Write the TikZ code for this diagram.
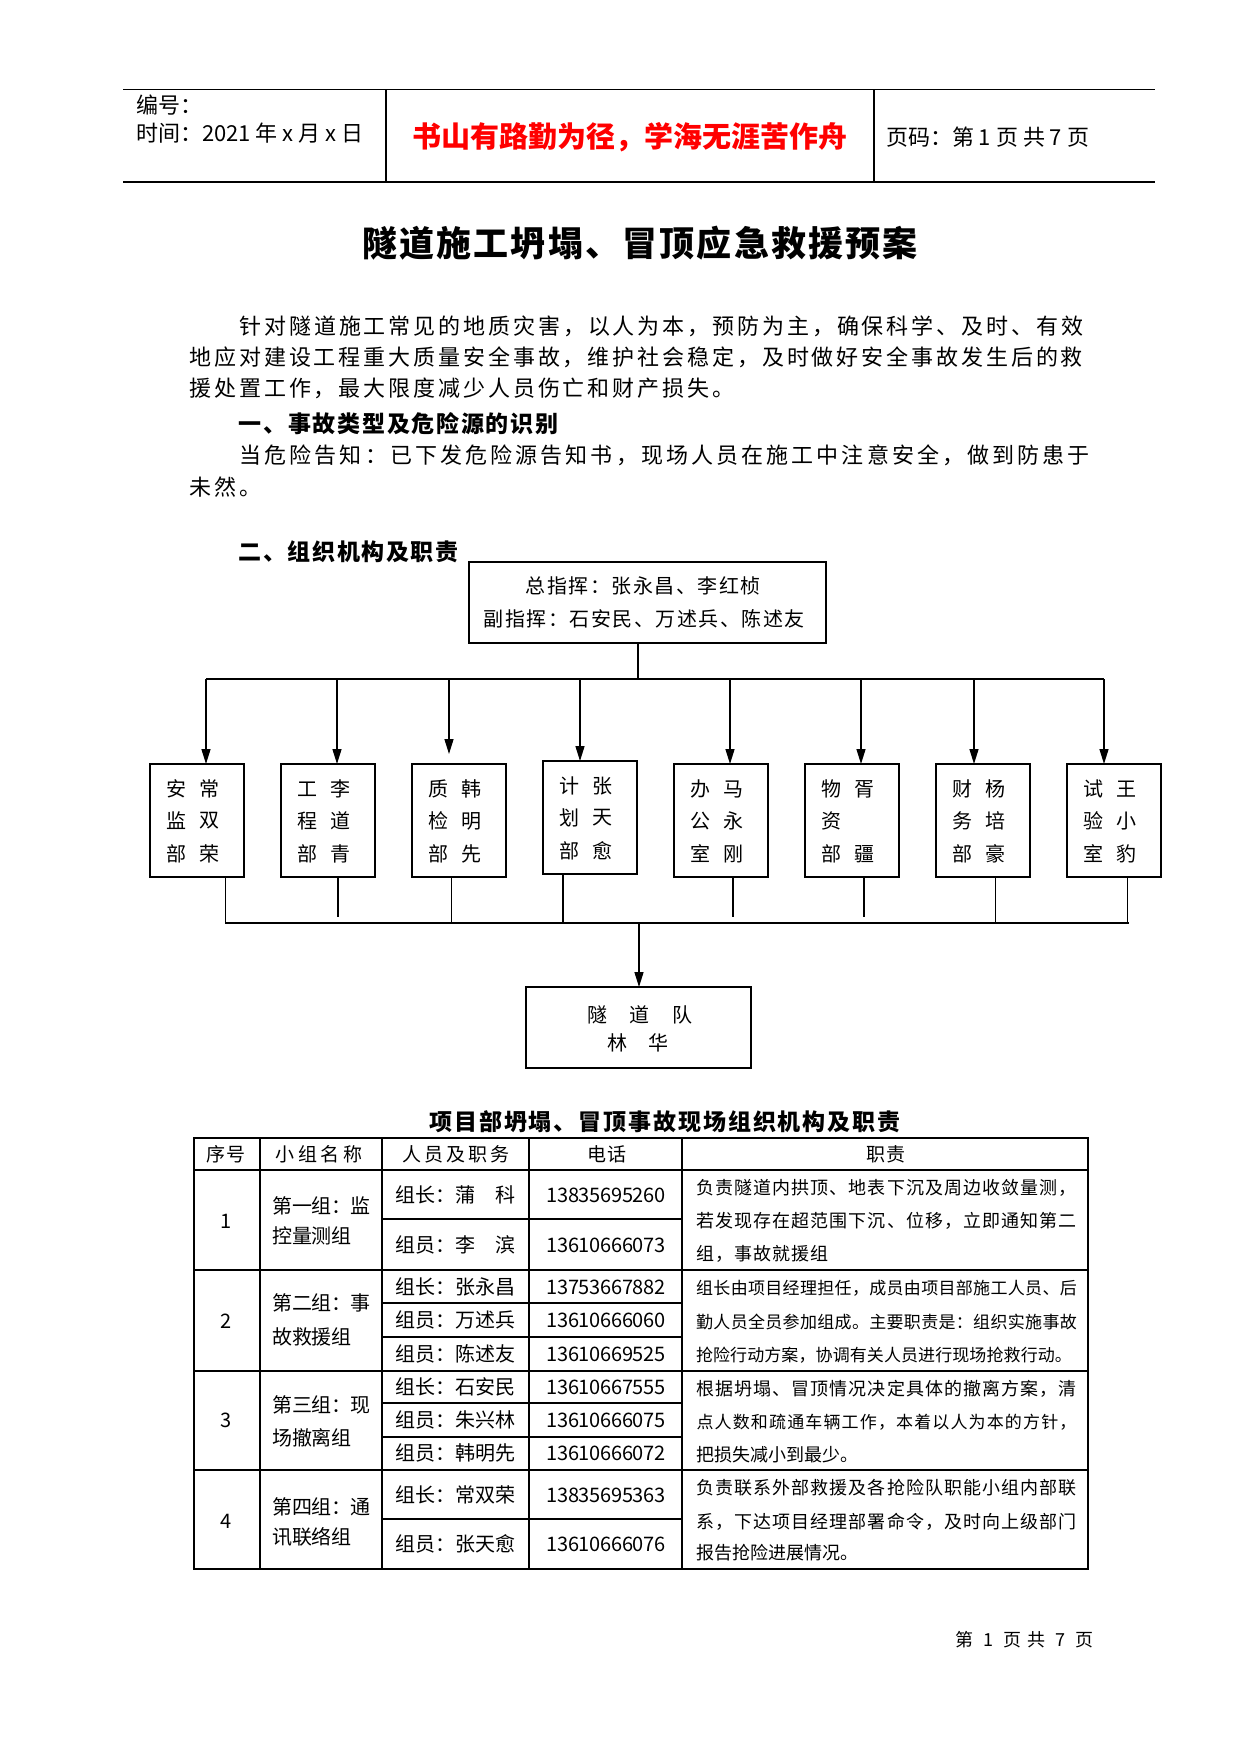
\documentclass[tikz,border=0pt]{standalone}
\usepackage{fontspec}
\setmainfont{Noto Sans CJK SC}
\usetikzlibrary{arrows.meta}
\makeatletter
\newdimen\chspw
\newcount\chspn
\newcommand\chsp[2]{\chspw=#1\relax\@tfor\chsptok:=#2\do{\makebox[\chspw]{\chsptok}}}
\newcommand\chspread[2]{\chspn=0\relax\@tfor\chsptok:=#2\do{\advance\chspn by 1\relax}\chspw=#1\relax\divide\chspw by\chspn\relax\@tfor\chsptok:=#2\do{\makebox[\chspw]{\chsptok}}}
\makeatother
\newcommand\fsz[1]{\fontsize{#1}{#1}\selectfont}
\definecolor{hdrred}{RGB}{255,0,0}
\newcommand\orgtxt[7]{%
  \path (#1.north west) ++(26,25) node[tc,font=\fsz{20}] (#1c1) {#2}
        ++(0,32) node[tc,font=\fsz{20}] (#1c2) {#3}
        ++(0,33) node[tc,font=\fsz{20}] (#1c3) {#4};
  \path (#1.north west) ++(59,25) node[tc,font=\fsz{20}] (#1d1) {#5}
        ++(0,32) node[tc,font=\fsz{20}] (#1d2) {#6}
        ++(0,33) node[tc,font=\fsz{20}] (#1d3) {#7};}
\begin{document}
\begin{tikzpicture}[x=1pt,y=-1pt,
  txt/.style={inner sep=0pt,outer sep=0pt,anchor=west},
  tc/.style={inner sep=0pt,outer sep=0pt,anchor=center},
  hline/.style={line width=1.1pt},
  obox/.style={draw,line width=1.4pt,inner sep=0pt,outer sep=0pt,anchor=north west},
  conn/.style={line width=1.4pt},
  arr/.style={line width=1.4pt,-{Triangle[length=15pt,width=9pt]}},
  tbl/.style={line width=1.1pt},
  tblo/.style={line width=1.6pt},
  body/.style={txt,font=\fsz{22}},
  cell/.style={txt,font=\fsz{20}},
  duty/.style={txt,font=\fsz{18}},
  dutys/.style={txt,font=\fsz{17}}]
\useasboundingbox[fill=white] (0,0) rectangle (1241,1754);

% ---- header ----
\draw[hline] (123,89.5) -- (1155,89.5);
\draw[hline] (123,182) -- (1155,182);
\draw[hline] (386,89.5) -- (386,182);
\draw[hline] (874,89.5) -- (874,182);
\node[txt,font=\fsz{22}] (hno) at (136,105) {编号：};
\node[txt,font=\fsz{22}] (htime) at (136,133) {时间：2021 年 x 月 x 日};
\node[tc,font=\fsz{29}\bfseries,text=hdrred] (hmotto) at (630,137) {书山有路勤为径，学海无涯苦作舟};
\node[txt,font=\fsz{22}] (hpage) at (886,137) {页码：第 1 页 共 7 页};

% ---- title & text ----
\node[tc,font=\fsz{35}\bfseries] (title) at (640,243) {\chsp{37.2pt}{隧道施工坍塌、冒顶应急救援预案}};
\node[body] (p1) at (238,326) {\chsp{24.9pt}{针对隧道施工常见的地质灾害，以人为本，预防为主，确保科学、及时、有效}};
\node[body] (p2) at (188,357) {\chsp{24.9pt}{地应对建设工程重大质量安全事故，维护社会稳定，及时做好安全事故发生后的救}};
\node[body] (p3) at (188,388) {\chsp{24.9pt}{援处置工作，最大限度减少人员伤亡和财产损失。}};
\node[txt,font=\fsz{23}\bfseries] (s1) at (238,424) {\chsp{24.7pt}{一、事故类型及危险源的识别}};
\node[body] (p4) at (238,455) {\chsp{25.1pt}{当危险告知：已下发危险源告知书，现场人员在施工中注意安全，做到防患于}};
\node[body] (p5) at (188,487) {\chsp{25.1pt}{未然。}};
\node[txt,font=\fsz{23}\bfseries] (s2) at (238,552) {\chsp{24.6pt}{二、组织机构及职责}};

% ---- org chart ----
\node[obox,minimum width=357pt,minimum height=81pt] (top) at (469,562) {};
\node[tc,font=\fsz{20}] (topl1) at (643,586) {\chsp{21.5pt}{总指挥：张永昌、李红桢}};
\node[tc,font=\fsz{20}] (topl2) at (644,619) {\chsp{21.5pt}{副指挥：石安民、万述兵、陈述友}};

\foreach \i/\xl/\yt in {1/150/764,2/281/764,3/412/764,4/543/761,5/674/764,6/805/764,7/936/764,8/1067/764}
  {\node[obox,minimum width=94pt,minimum height=113pt] (b\i) at (\xl,\yt) {};}
\orgtxt{b1}{安}{监}{部}{常}{双}{荣}
\orgtxt{b2}{工}{程}{部}{李}{道}{青}
\orgtxt{b3}{质}{检}{部}{韩}{明}{先}
\orgtxt{b4}{计}{划}{部}{张}{天}{愈}
\orgtxt{b5}{办}{公}{室}{马}{永}{刚}
\orgtxt{b6}{物}{资}{部}{胥}{}{疆}
\orgtxt{b7}{财}{务}{部}{杨}{培}{豪}
\orgtxt{b8}{试}{验}{室}{王}{小}{豹}

\coordinate (tj) at (638,679);
\coordinate (tbl) at (206,679);
\coordinate (tbr) at (1104,679);
\draw[conn] (top.south -| tj) -- (tj);
\draw[conn] (tbl) -- (tbr);
\foreach \i/\ax/\sh in {1/206/0,2/337/0,3/449/10,4/580/0,5/730/0,6/861/0,7/974/0,8/1104/0}
  {\coordinate (a\i) at (\ax,679);
   \draw[arr,shorten >=\sh pt] (a\i) -- (a\i |- b\i.north);}

\foreach \i/\lx/\ly/\lw in {1/225/923/0.8,2/338/917/1.4,3/451/923/0.8,4/563/923/1.4,5/733/917/1.4,6/864/917/1.4,7/995/923/0.8,8/1127/923/0.8}
  {\coordinate (l\i) at (\lx,\ly);
   \draw[line width=\lw pt] (b\i.south -| l\i) -- (l\i);}
\coordinate (bbl) at (225,923);
\coordinate (bbr) at (1129,923);
\draw[conn] (bbl) -- (bbr);
\coordinate (bj) at (639,923);
\node[obox,minimum width=225pt,minimum height=81pt] (team) at (526,987) {};
\draw[arr] (bj) -- (bj |- team.north);
\node[tc,font=\fsz{20}] (team1) at (640,1015) {\chsp{42.5pt}{隧道队}};
\node[tc,font=\fsz{20}] (team2) at (638,1043) {\chsp{41pt}{林华}};

% ---- table ----
\node[tc,font=\fsz{23}\bfseries] (ttitle) at (665,1122) {\chsp{24.9pt}{项目部坍塌、冒顶事故现场组织机构及职责}};
\draw[tblo] (194,1138) rectangle (1088,1569);
\foreach \x in {260,382,529,682} {\draw[tbl] (\x,1138) -- (\x,1569);}
\foreach \y in {1170,1270,1371,1470} {\draw[tbl] (194,\y) -- (1088,\y);}
\foreach \y in {1219,1303,1337,1403,1437,1519} {\draw[tbl] (382,\y) -- (682,\y);}

\node[tc,font=\fsz{19}] (th1) at (226,1154) {\chsp{19.5pt}{序号}};
\node[tc,font=\fsz{19}] (th2) at (319,1154) {\chsp{22.5pt}{小组名称}};
\node[tc,font=\fsz{19}] (th3) at (456,1154) {\chsp{22pt}{人员及职务}};
\node[tc,font=\fsz{19}] (th4) at (607,1154) {\chsp{20pt}{电话}};
\node[tc,font=\fsz{19}] (th5) at (886,1154) {\chsp{20pt}{职责}};

\node[tc,font=\fsz{20}] (n1) at (226,1221) {1};
\node[tc,font=\fsz{20}] (n2) at (226,1321) {2};
\node[tc,font=\fsz{20}] (n3) at (226,1420) {3};
\node[tc,font=\fsz{20}] (n4) at (226,1521) {4};

\node[cell] (g1a) at (273,1206) {\chsp{19.5pt}{第一组：监}};
\node[cell] (g1b) at (273,1236) {\chsp{19.5pt}{控量测组}};
\node[cell] (g2a) at (273,1303) {\chsp{19.5pt}{第二组：事}};
\node[cell] (g2b) at (273,1337) {\chsp{19.5pt}{故救援组}};
\node[cell] (g3a) at (273,1405) {\chsp{19.5pt}{第三组：现}};
\node[cell] (g3b) at (273,1438) {\chsp{19.5pt}{场撤离组}};
\node[cell] (g4a) at (273,1507) {\chsp{19.5pt}{第四组：通}};
\node[cell] (g4b) at (273,1537) {\chsp{19.5pt}{讯联络组}};

\node[cell] (m11) at (395,1195) {\chsp{20pt}{组长：蒲　科}};
\node[cell] (m12) at (395,1245) {\chsp{20pt}{组员：李　滨}};
\node[cell] (m21) at (395,1287) {\chsp{20pt}{组长：张永昌}};
\node[cell] (m22) at (395,1320) {\chsp{20pt}{组员：万述兵}};
\node[cell] (m23) at (395,1354) {\chsp{20pt}{组员：陈述友}};
\node[cell] (m31) at (395,1387) {\chsp{20pt}{组长：石安民}};
\node[cell] (m32) at (395,1420) {\chsp{20pt}{组员：朱兴林}};
\node[cell] (m33) at (395,1453) {\chsp{20pt}{组员：韩明先}};
\node[cell] (m41) at (395,1495) {\chsp{20pt}{组长：常双荣}};
\node[cell] (m42) at (395,1544) {\chsp{20pt}{组员：张天愈}};

\node[tc,font=\fsz{20}] (ph11) at (606,1195) {\chsp{10.8pt}{13835695260}};
\node[tc,font=\fsz{20}] (ph12) at (606,1245) {\chsp{10.8pt}{13610666073}};
\node[tc,font=\fsz{20}] (ph21) at (606,1287) {\chsp{10.8pt}{13753667882}};
\node[tc,font=\fsz{20}] (ph22) at (606,1320) {\chsp{10.8pt}{13610666060}};
\node[tc,font=\fsz{20}] (ph23) at (606,1354) {\chsp{10.8pt}{13610669525}};
\node[tc,font=\fsz{20}] (ph31) at (606,1387) {\chsp{10.8pt}{13610667555}};
\node[tc,font=\fsz{20}] (ph32) at (606,1420) {\chsp{10.8pt}{13610666075}};
\node[tc,font=\fsz{20}] (ph33) at (606,1453) {\chsp{10.8pt}{13610666072}};
\node[tc,font=\fsz{20}] (ph41) at (606,1495) {\chsp{10.8pt}{13835695363}};
\node[tc,font=\fsz{20}] (ph42) at (606,1544) {\chsp{10.8pt}{13610666076}};

\node[duty] (d11) at (696,1188) {\chspread{381pt}{负责隧道内拱顶、地表下沉及周边收敛量测，}};
\node[duty] (d12) at (696,1221) {\chspread{381pt}{若发现存在超范围下沉、位移，立即通知第二}};
\node[duty] (d13) at (696,1254) {\chsp{19pt}{组，事故就援组}};
\node[dutys] (d21) at (696,1288) {\chspread{381pt}{组长由项目经理担任，成员由项目部施工人员、后}};
\node[dutys] (d22) at (696,1322) {\chspread{381pt}{勤人员全员参加组成。主要职责是：组织实施事故}};
\node[dutys] (d23) at (696,1355) {\chspread{376pt}{抢险行动方案，协调有关人员进行现场抢救行动。}};
\node[duty] (d31) at (696,1389) {\chspread{381pt}{根据坍塌、冒顶情况决定具体的撤离方案，清}};
\node[dutys] (d32) at (696,1422) {\chspread{381pt}{点人数和疏通车辆工作，本着以人为本的方针，}};
\node[duty] (d33) at (696,1455) {\chsp{18pt}{把损失减小到最少。}};
\node[duty] (d41) at (696,1488) {\chspread{381pt}{负责联系外部救援及各抢险队职能小组内部联}};
\node[duty] (d42) at (696,1522) {\chspread{381pt}{系，下达项目经理部署命令，及时向上级部门}};
\node[duty] (d43) at (696,1553) {\chsp{18pt}{报告抢险进展情况。}};

% ---- footer ----
\node[inner sep=0pt,anchor=east,font=\fsz{18}] (foot) at (1097,1640) {\chsp{24pt}{第1页共7页}};
\end{tikzpicture}
\end{document}
